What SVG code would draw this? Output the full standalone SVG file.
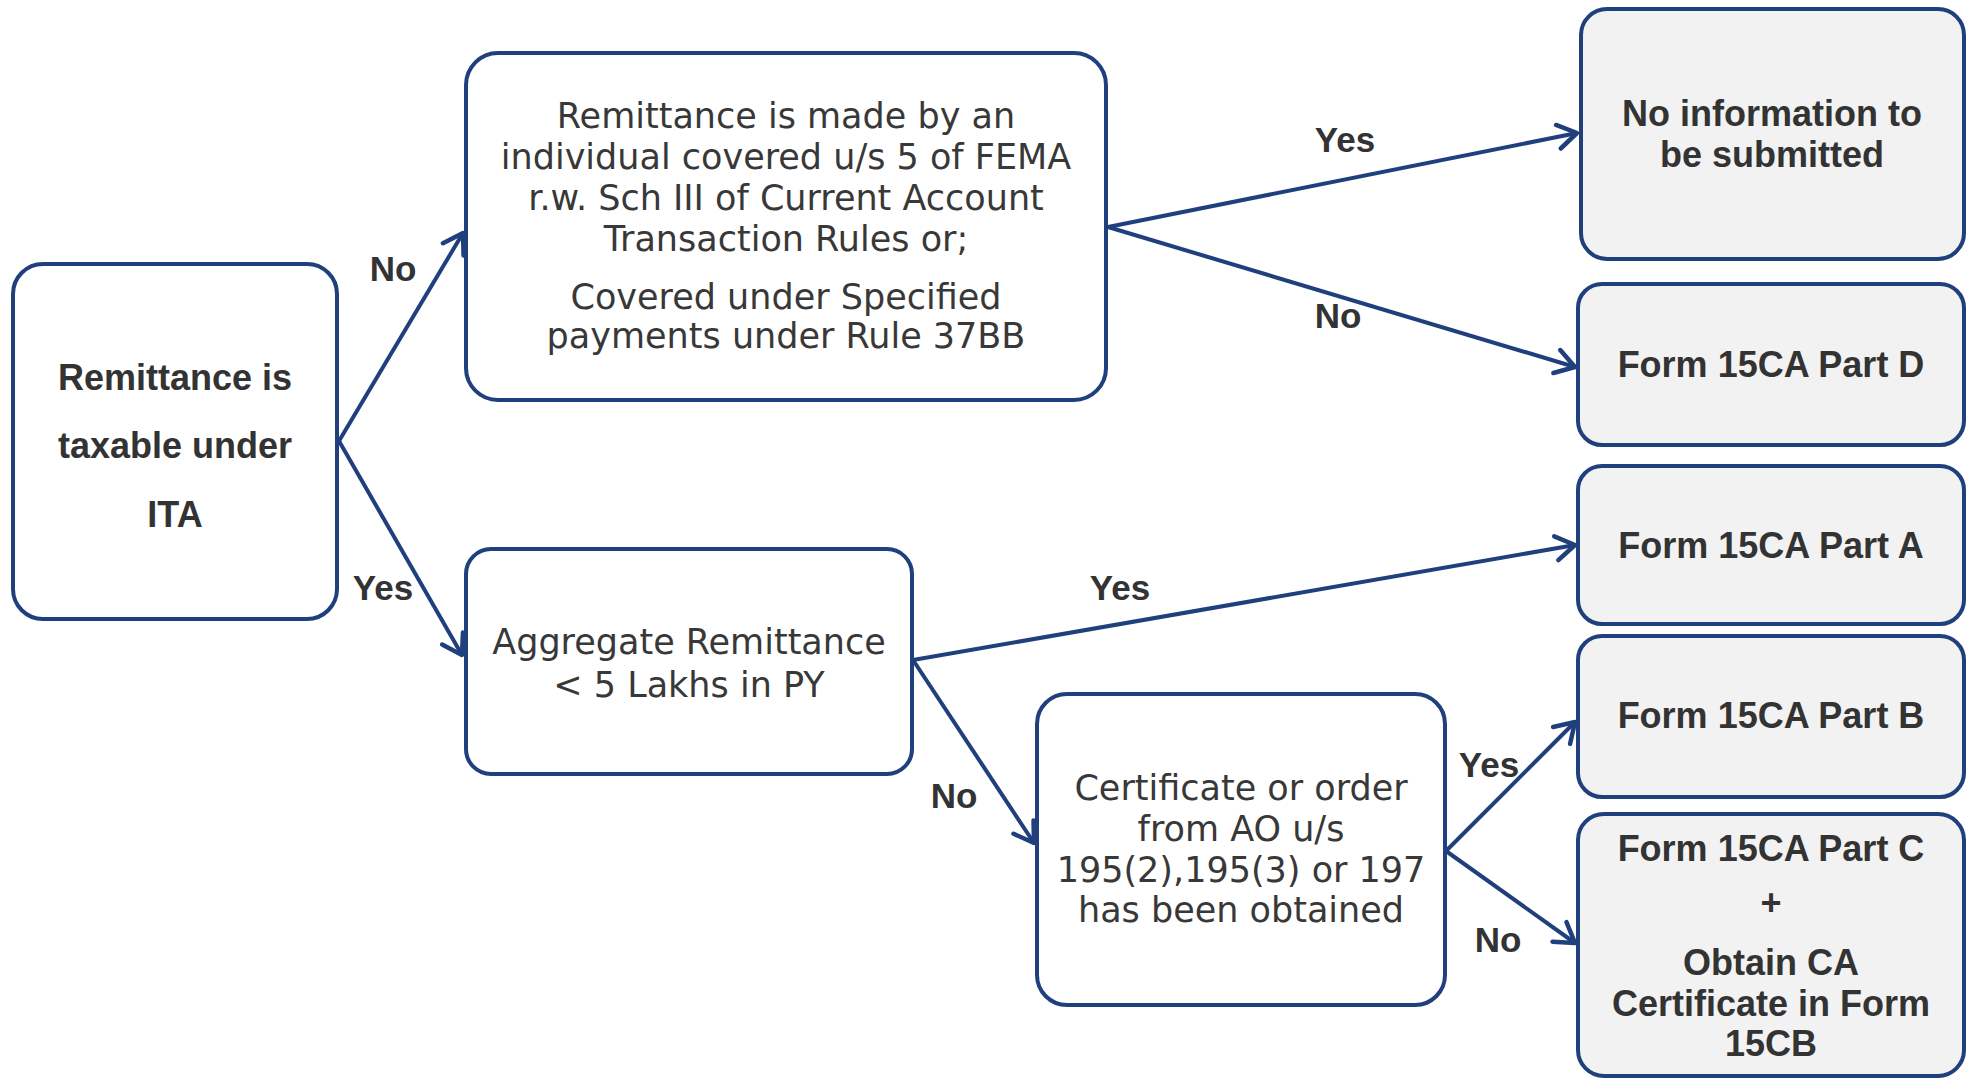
<svg xmlns="http://www.w3.org/2000/svg" width="1970" height="1079" viewBox="0 0 1970 1079">
  <style>
    .box { fill: #ffffff; stroke: #1F3F7D; stroke-width: 4; }
    .out { fill: #F2F2F2; stroke: #1F3F7D; stroke-width: 4; }
    .reg { font-family: "DejaVu Sans", "Liberation Sans", sans-serif; font-size: 35px; fill: #383838; text-anchor: middle; }
    .bold { font-family: "Liberation Sans", Arial, sans-serif; font-weight: bold; font-size: 36px; fill: #333333; text-anchor: middle; }
    .lbl { font-family: "Liberation Sans", Arial, sans-serif; font-weight: bold; font-size: 35px; fill: #333333; text-anchor: middle; }
    .conn { fill: none; stroke: #1F3F7D; stroke-width: 4; marker-end: url(#arrow); }
  </style>
  <defs>
    <marker id="arrow" markerUnits="userSpaceOnUse" markerWidth="40" markerHeight="40" viewBox="-30 -20 40 40" refX="0" refY="0" orient="auto">
      <path d="M-19,-12 L0,0 L-19,12" fill="none" stroke="#1F3F7D" stroke-width="4.5" stroke-linecap="round" stroke-linejoin="round"/>
    </marker>
  </defs>
  <rect width="1970" height="1079" fill="#ffffff"/>

  <!-- connectors -->
  <g id="connectors">
    <line class="conn" x1="339" y1="441" x2="463" y2="233"/>
    <line class="conn" x1="339" y1="441" x2="462" y2="655"/>
    <line class="conn" x1="1108" y1="227" x2="1577" y2="133"/>
    <line class="conn" x1="1108" y1="227" x2="1575" y2="367"/>
    <line class="conn" x1="913" y1="660" x2="1575" y2="545"/>
    <line class="conn" x1="913" y1="660" x2="1034" y2="843"/>
    <line class="conn" x1="1446" y1="851" x2="1575" y2="722"/>
    <line class="conn" x1="1446" y1="851" x2="1575" y2="943"/>
    <text class="lbl" x="393" y="281">No</text>
    <text class="lbl" x="383" y="600">Yes</text>
    <text class="lbl" x="1345" y="152">Yes</text>
    <text class="lbl" x="1338" y="328">No</text>
    <text class="lbl" x="1120" y="600">Yes</text>
    <text class="lbl" x="954" y="808">No</text>
    <text class="lbl" x="1489" y="777">Yes</text>
    <text class="lbl" x="1498" y="952">No</text>
  </g>

  <!-- decision nodes -->
  <g id="taxable">
    <rect class="box" x="13" y="264" width="324" height="355" rx="30"/>
    <text class="bold" x="175" y="390">Remittance is</text>
    <text class="bold" x="175" y="458">taxable under</text>
    <text class="bold" x="175" y="527">ITA</text>
  </g>
  <g id="fema">
    <rect class="box" x="466" y="53" width="640" height="347" rx="32"/>
    <text class="reg" x="786" y="128">Remittance is made by an</text>
    <text class="reg" x="786" y="169">individual covered u/s 5 of FEMA</text>
    <text class="reg" x="786" y="210">r.w. Sch III of Current Account</text>
    <text class="reg" x="786" y="251">Transaction Rules or;</text>
    <text class="reg" x="786" y="309">Covered under Specified</text>
    <text class="reg" x="786" y="348">payments under Rule 37BB</text>
  </g>
  <g id="aggregate">
    <rect class="box" x="466" y="549" width="446" height="225" rx="25"/>
    <text class="reg" x="689" y="654">Aggregate Remittance</text>
    <text class="reg" x="689" y="697">&lt; 5 Lakhs in PY</text>
  </g>
  <g id="certificate">
    <rect class="box" x="1037" y="694" width="408" height="311" rx="30"/>
    <text class="reg" x="1241" y="800">Certificate or order</text>
    <text class="reg" x="1241" y="841">from AO u/s</text>
    <text class="reg" x="1241" y="882">195(2),195(3) or 197</text>
    <text class="reg" x="1241" y="922">has been obtained</text>
  </g>

  <!-- outcomes -->
  <g id="no-info">
    <rect class="out" x="1581" y="9" width="383" height="250" rx="26"/>
    <text class="bold" x="1772" y="126">No information to</text>
    <text class="bold" x="1772" y="167">be submitted</text>
  </g>
  <g id="part-d">
    <rect class="out" x="1578" y="284" width="386" height="161" rx="24"/>
    <text class="bold" x="1771" y="377">Form 15CA Part D</text>
  </g>
  <g id="part-a">
    <rect class="out" x="1578" y="466" width="386" height="158" rx="24"/>
    <text class="bold" x="1771" y="558">Form 15CA Part A</text>
  </g>
  <g id="part-b">
    <rect class="out" x="1578" y="636" width="386" height="161" rx="24"/>
    <text class="bold" x="1771" y="728">Form 15CA Part B</text>
  </g>
  <g id="part-c">
    <rect class="out" x="1578" y="814" width="386" height="262" rx="26"/>
    <text class="bold" x="1771" y="861">Form 15CA Part C</text>
    <text class="bold" x="1771" y="915">+</text>
    <text class="bold" x="1771" y="975">Obtain CA</text>
    <text class="bold" x="1771" y="1016">Certificate in Form</text>
    <text class="bold" x="1771" y="1056">15CB</text>
  </g>
</svg>
